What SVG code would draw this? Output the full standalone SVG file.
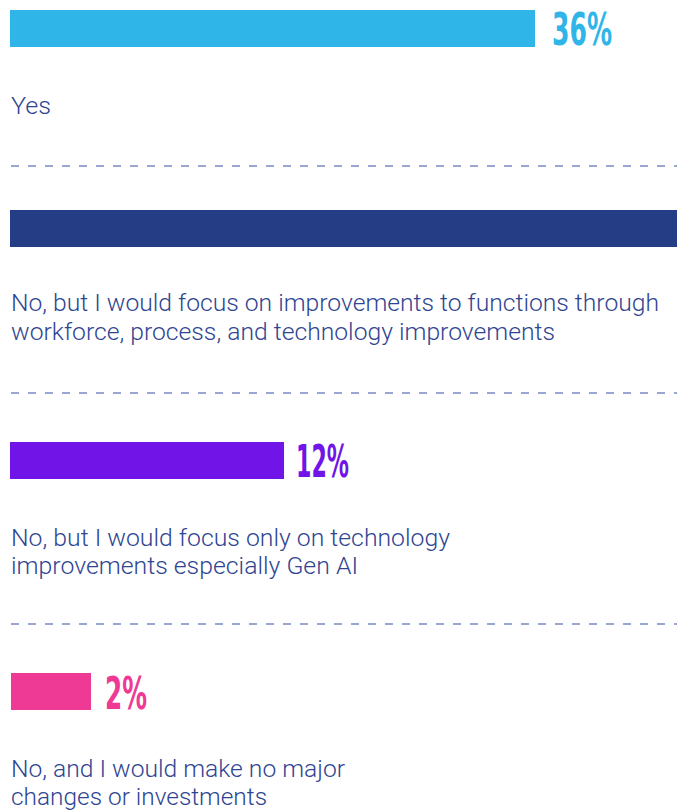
<svg xmlns="http://www.w3.org/2000/svg" width="677" height="811" viewBox="0 0 677 811">
<style>
.lbl{font-family:Roboto,"Liberation Sans",Arial,sans-serif;font-weight:300;font-size:23px;fill:#2f4592}
.pct{font-family:"Liberation Sans Narrow","DejaVu Sans Condensed","Liberation Sans",sans-serif;font-weight:bold;font-size:45px}
.sep{stroke:#7b8bc4;stroke-width:1.5;stroke-dasharray:8 9;fill:none}
</style>
<rect width="677" height="811" fill="#ffffff"/>
<g id="item-yes">
<rect x="10" y="10" width="525" height="37" fill="#2fb5e8"/>
<text class="pct" x="552" y="45" fill="#2fb5e8" textLength="60" lengthAdjust="spacingAndGlyphs">36%</text>
<text class="lbl" x="11" y="114" textLength="40" lengthAdjust="spacingAndGlyphs">Yes</text>
</g>
<g id="separators">
<line class="sep" x1="11" y1="166" x2="677" y2="166"/>
<line class="sep" x1="11" y1="393" x2="677" y2="393"/>
<line class="sep" x1="11" y1="624" x2="677" y2="624"/>
</g>
<g id="item-functions">
<rect x="10" y="210" width="667" height="37" fill="#253d85"/>
<text class="lbl" x="11" y="311" textLength="648" lengthAdjust="spacingAndGlyphs">No, but I would focus on improvements to functions through</text>
<text class="lbl" x="11" y="340" textLength="544" lengthAdjust="spacingAndGlyphs">workforce, process, and technology improvements</text>
</g>
<g id="item-technology">
<rect x="10" y="442" width="274" height="37" fill="#7014e8"/>
<text class="pct" x="296" y="477" fill="#7014e8" textLength="53" lengthAdjust="spacingAndGlyphs">12%</text>
<text class="lbl" x="11" y="546" textLength="439" lengthAdjust="spacingAndGlyphs">No, but I would focus only on technology</text>
<text class="lbl" x="11" y="574" textLength="347" lengthAdjust="spacingAndGlyphs">improvements especially Gen AI</text>
</g>
<g id="item-no-changes">
<rect x="11" y="673" width="80" height="37" fill="#ee3a94"/>
<text class="pct" x="105" y="709" fill="#ee3a94" textLength="42" lengthAdjust="spacingAndGlyphs">2%</text>
<text class="lbl" x="11" y="777" textLength="334" lengthAdjust="spacingAndGlyphs">No, and I would make no major</text>
<text class="lbl" x="11" y="805" textLength="256" lengthAdjust="spacingAndGlyphs">changes or investments</text>
</g>
</svg>
